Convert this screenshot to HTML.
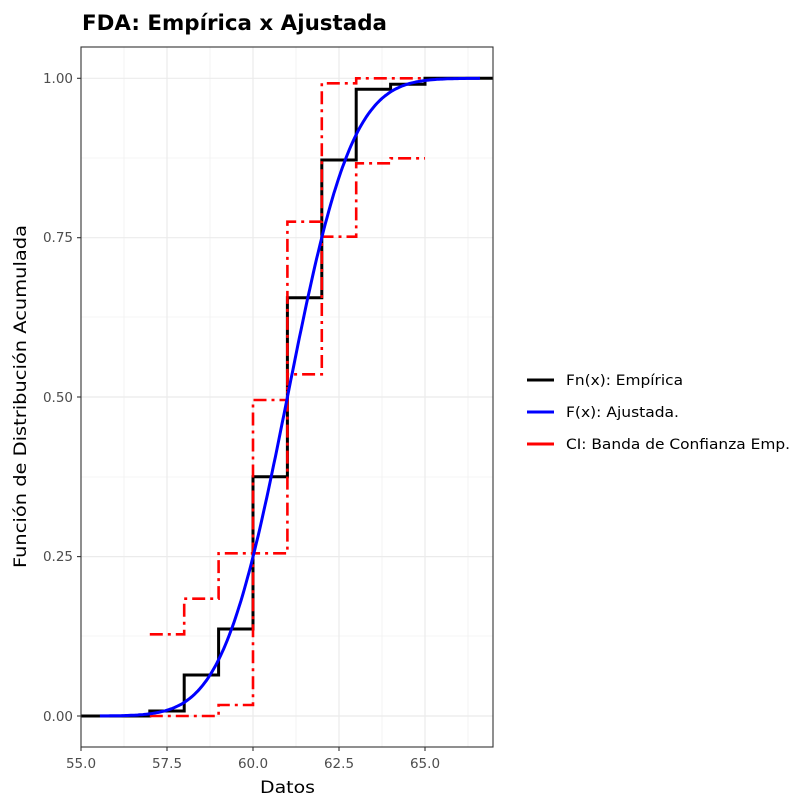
<!DOCTYPE html>
<html><head><meta charset="utf-8"><style>
body{margin:0;background:#fff}
svg{display:block}
text{font-family:"DejaVu Sans","Liberation Sans",sans-serif}
</style></head><body>
<svg width="801" height="799" viewBox="0 0 801 799" xmlns="http://www.w3.org/2000/svg">
<rect width="801" height="799" fill="#fff"/>
<text x="82" y="30" font-size="21" font-weight="bold" fill="#000" textLength="305" lengthAdjust="spacingAndGlyphs">FDA: Empírica x Ajustada</text>
<g stroke="#ebebeb" stroke-width="0.6">
<line x1="124" y1="47" x2="124" y2="747"/><line x1="210" y1="47" x2="210" y2="747"/><line x1="296" y1="47" x2="296" y2="747"/><line x1="382" y1="47" x2="382" y2="747"/><line x1="468" y1="47" x2="468" y2="747"/>
<line x1="81" y1="158" x2="493" y2="158"/><line x1="81" y1="317" x2="493" y2="317"/><line x1="81" y1="477" x2="493" y2="477"/><line x1="81" y1="636" x2="493" y2="636"/>
</g>
<g stroke="#ebebeb" stroke-width="1.2">
<line x1="81" y1="78.3" x2="493" y2="78.3"/><line x1="81" y1="237.7" x2="493" y2="237.7"/><line x1="81" y1="397" x2="493" y2="397"/><line x1="81" y1="556.6" x2="493" y2="556.6"/><line x1="81" y1="716" x2="493" y2="716"/>
<line x1="167" y1="47" x2="167" y2="747"/><line x1="253" y1="47" x2="253" y2="747"/><line x1="339" y1="47" x2="339" y2="747"/><line x1="425" y1="47" x2="425" y2="747"/>
</g>
<path d="M81,716 H149.8 V711 H184.2 V675 H218.6 V629 H253 V476.7 H287.4 V297.7 H321.8 V160 H356.2 V89.3 H390.6 V84.3 H425 V78.3 H493" fill="none" stroke="#000" stroke-width="3"/>
<g fill="none" stroke="#ff0000" stroke-width="2.6" stroke-dasharray="13 5 3 5">
<path d="M149.8,634.3 H184.2 V598.7 H218.6 V553.3 H253 V400 H287.4 V221.7 H321.8 V83.3 H356.2 V78.3 H425"/>
<path d="M149.8,716 H218.6 V705 H253 V553.3 H287.4 V374.3 H321.8 V236.7 H356.2 V163.3 H390.6 V158.3 H425"/>
</g>
<path id="blue" d="" fill="none" stroke="#0000ff" stroke-width="3"/>
<rect x="81" y="47" width="412" height="700" fill="none" stroke="#333" stroke-width="1.1"/>
<g stroke="#333" stroke-width="1.1">
<line x1="77" y1="78.3" x2="81" y2="78.3"/><line x1="77" y1="237.7" x2="81" y2="237.7"/><line x1="77" y1="397" x2="81" y2="397"/><line x1="77" y1="556.6" x2="81" y2="556.6"/><line x1="77" y1="716" x2="81" y2="716"/>
<line x1="81" y1="747" x2="81" y2="751"/><line x1="167" y1="747" x2="167" y2="751"/><line x1="253" y1="747" x2="253" y2="751"/><line x1="339" y1="747" x2="339" y2="751"/><line x1="425" y1="747" x2="425" y2="751"/>
</g>
<g font-size="13.5" fill="#4d4d4d" text-anchor="end">
<text x="73" y="83">1.00</text><text x="73" y="242">0.75</text><text x="73" y="402">0.50</text><text x="73" y="561">0.25</text><text x="73" y="721">0.00</text>
</g>
<g font-size="13.5" fill="#4d4d4d" text-anchor="middle">
<text x="81" y="768">55.0</text><text x="167" y="768">57.5</text><text x="253" y="768">60.0</text><text x="339" y="768">62.5</text><text x="425" y="768">65.0</text>
</g>
<text x="260" y="793" font-size="17" fill="#000" textLength="55" lengthAdjust="spacingAndGlyphs">Datos</text>
<text transform="translate(26,568) rotate(-90)" font-size="17" fill="#000" textLength="343" lengthAdjust="spacingAndGlyphs">Función de Distribución Acumulada</text>
<g stroke-width="3">
<line x1="527" y1="380" x2="554" y2="380" stroke="#000"/>
<line x1="527" y1="412" x2="554" y2="412" stroke="#0000ff"/>
<line x1="527" y1="444" x2="554" y2="444" stroke="#ff0000"/>
</g>
<g font-size="14.5" fill="#000">
<text x="566" y="385" textLength="117" lengthAdjust="spacingAndGlyphs">Fn(x): Empírica</text>
<text x="566" y="417" textLength="113" lengthAdjust="spacingAndGlyphs">F(x): Ajustada.</text>
<text x="566" y="449" textLength="224" lengthAdjust="spacingAndGlyphs">CI: Banda de Confianza Emp.</text>
</g>
</svg>
<script>
function erf(x){var s=x<0?-1:1;x=Math.abs(x);var t=1/(1+0.3275911*x);var y=1-((((1.061405429*t-1.453152027)*t+1.421413741)*t-0.284496736)*t+0.254829592)*t*Math.exp(-x*x);return s*y;}
var d="";for(var v=55.55;v<=66.6;v+=0.05){var p=0.5*(1+erf((v-61)/(1.48*Math.SQRT2)));var X=81+(v-55)*34.4,Y=716-p*637.7;d+=(d?"L":"M")+X.toFixed(1)+","+Y.toFixed(1);}
document.getElementById("blue").setAttribute("d",d);
</script>
</body></html>
